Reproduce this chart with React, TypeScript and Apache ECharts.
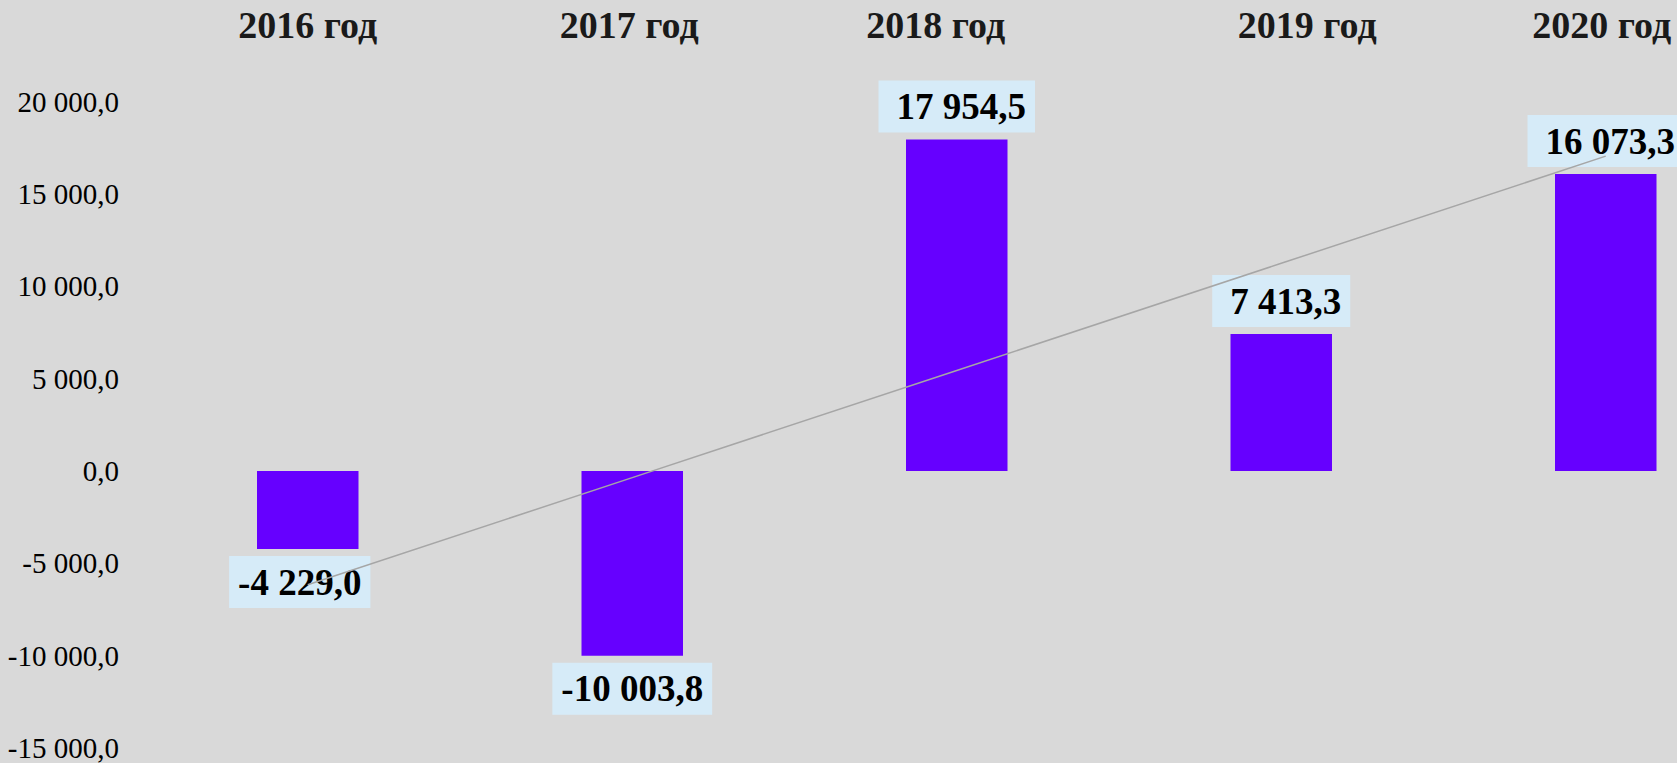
import React, { useEffect, useRef } from "react";
import * as echarts from "echarts";

const categories = ["2016 год", "2017 год", "2018 год", "2019 год", "2020 год"];
const values = [-4229.0, -10003.8, 17954.5, 7413.3, 16073.3];
const yMin = -15000;
const yMax = 20000;
const yStep = 5000;
// small horizontal nudges of the header texts and value labels (px), as in the reference
const headerShift = [0, -3, -21, 26, -4];
const labelShift = [-8, 0, 0, 0, 0];

function fmt(v: number): string {
  const sign = v < 0 ? "-" : "";
  const [i, d] = Math.abs(v).toFixed(1).split(".");
  return sign + i.replace(/\B(?=(\d{3})+(?!\d))/g, " ") + "," + d;
}

// linear trend line (least squares), like Excel's trendline
function trend(ys: number[]): number[] {
  const n = ys.length;
  const xs = ys.map((_, i) => i + 1);
  const mx = xs.reduce((a, b) => a + b, 0) / n;
  const my = ys.reduce((a, b) => a + b, 0) / n;
  let sxy = 0;
  let sxx = 0;
  for (let i = 0; i < n; i++) {
    sxy += (xs[i] - mx) * (ys[i] - my);
    sxx += (xs[i] - mx) * (xs[i] - mx);
  }
  const k = sxy / sxx;
  return xs.map((x) => my + k * (x - mx));
}

export default function App() {
  const ref = useRef<HTMLDivElement>(null);
  useEffect(() => {
    if (!ref.current) return;
    const chart = echarts.init(ref.current, undefined, { renderer: "svg" });
    const rich: Record<string, any> = {};
    categories.forEach((_, i) => {
      const s = headerShift[i];
      rich["h" + i] = {
        fontFamily: "Liberation Serif",
        fontWeight: "bold",
        fontSize: 38,
        color: "#1a1a1a",
        padding: s < 0 ? [0, -2 * s, 0, 0] : [0, 0, 0, 2 * s],
      };
    });
    chart.setOption({
      animation: false,
      backgroundColor: "#D9D9D9",
      grid: {
        left: 145.5,
        width: 1622.5,
        top: 101.6,
        bottom: 15,
        containLabel: false,
        outerBoundsMode: "none",
      },
      xAxis: {
        type: "category",
        data: categories,
        position: "top",
        axisLine: { show: false },
        axisTick: { show: false },
        splitLine: { show: false },
        axisLabel: {
          margin: 58,
          interval: 0,
          hideOverlap: false,
          fontFamily: "Liberation Serif",
          fontWeight: "bold",
          fontSize: 38,
          color: "#1a1a1a",
          formatter: (val: string) => {
            const i = categories.indexOf(val);
            return "{h" + i + "|" + val + "}";
          },
          rich,
        },
      },
      yAxis: {
        type: "value",
        min: yMin,
        max: yMax,
        interval: yStep,
        axisLine: { show: false },
        axisTick: { show: false },
        splitLine: { show: false },
        axisLabel: {
          margin: 26.5,
          fontFamily: "Liberation Serif",
          fontSize: 29,
          color: "#000",
          formatter: (v: number) => fmt(v),
        },
      },
      series: [
        {
          type: "bar",
          barWidth: 101.5,
          itemStyle: { color: "#6600FF" },
          data: values.map((v, i) => ({
            value: v,
            label: {
              show: true,
              position: v < 0 ? "bottom" : "top",
              distance: 7,
              offset: [labelShift[i], 0],
              formatter: () => fmt(v),
              fontFamily: "Liberation Serif",
              fontWeight: "bold",
              fontSize: 37,
              lineHeight: 38,
              color: "#000",
              backgroundColor: "#D6EBF8",
              padding: v < 0 ? [7, 9, 7, 9] : [7, 9, 7, 18],
            },
          })),
        },
        {
          type: "line",
          data: trend(values),
          showSymbol: false,
          silent: true,
          z: 5,
          lineStyle: { color: "#A6A6A6", width: 1.5 },
        },
      ],
    });
    return () => chart.dispose();
  }, []);
  return (
    <div
      ref={ref}
      style={{ position: "fixed", left: 0, top: 0, width: 1677, height: 763 }}
    />
  );
}
